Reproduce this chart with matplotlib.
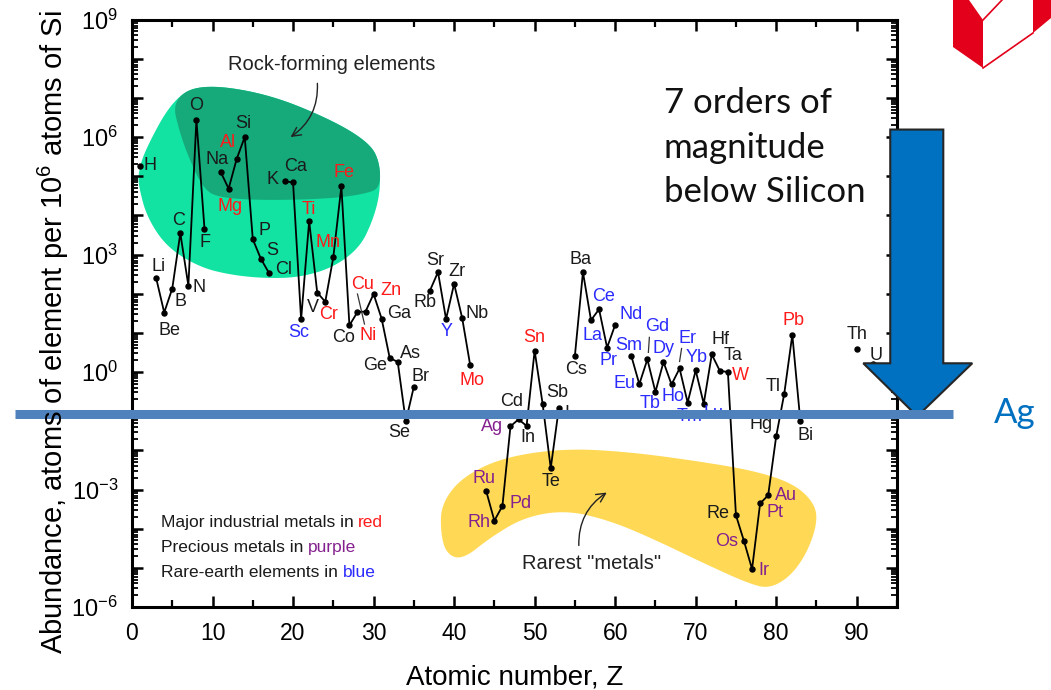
import numpy as np
import matplotlib
matplotlib.use('Agg')
import matplotlib.pyplot as plt
from matplotlib.patches import Polygon
from matplotlib.lines import Line2D
from matplotlib.ticker import FixedLocator, MultipleLocator, FuncFormatter

plt.rcParams['font.family'] = ['Liberation Sans', 'DejaVu Sans']
plt.rcParams['mathtext.default'] = 'regular'

nan = np.nan

# element symbols, Z = 1..92
symbols = ['H', 'He', 'Li', 'Be', 'B', 'C', 'N', 'O', 'F', 'Ne',
           'Na', 'Mg', 'Al', 'Si', 'P', 'S', 'Cl', 'Ar', 'K', 'Ca',
           'Sc', 'Ti', 'V', 'Cr', 'Mn', 'Fe', 'Co', 'Ni', 'Cu', 'Zn',
           'Ga', 'Ge', 'As', 'Se', 'Br', 'Kr', 'Rb', 'Sr', 'Y', 'Zr',
           'Nb', 'Mo', 'Tc', 'Ru', 'Rh', 'Pd', 'Ag', 'Cd', 'In', 'Sn',
           'Sb', 'Te', 'I', 'Xe', 'Cs', 'Ba', 'La', 'Ce', 'Pr', 'Nd',
           'Pm', 'Sm', 'Eu', 'Gd', 'Tb', 'Dy', 'Ho', 'Er', 'Tm', 'Yb',
           'Lu', 'Hf', 'Ta', 'W', 'Re', 'Os', 'Ir', 'Pt', 'Au', 'Hg',
           'Tl', 'Pb', 'Bi', 'Po', 'At', 'Rn', 'Fr', 'Ra', 'Ac', 'Th',
           'Pa', 'U']

# atoms per 10^6 atoms of Si, nan = not plotted
abundance = [1.8e5, nan, 250, 33, 135, 3.5e3, 160, 2.75e6, 4.6e3, nan,
             1.3e5, 4.8e4, 2.75e5, 1.0e6, 2.45e3, 780, 340, nan, 7.4e4, 6.9e4,
             22, 7.1e3, 107, 62, 850, 5.5e4, 15.5, 34, 35, 98,
             23, 2.3, 1.8, 0.055, 0.42, nan, 120, 355, 22.4, 178,
             24, 1.48, nan, 8.9e-4, 1.6e-4, 3.8e-4, 0.041, 0.062, 0.042, 3.5,
             0.15, 3.5e-3, 0.117, nan, 2.6, 355, 21, 40, 4.2, 16,
             nan, 2.6, 0.49, 2.1, 0.31, 1.8, 0.48, 1.23, 0.166, 1.1,
             0.155, 2.8, 1.07, 1.0, 2.2e-4, 4.8e-5, 9.3e-6, 4.4e-4, 7.1e-4, 0.023,
             0.28, 8.9, 0.055, nan, nan, nan, nan, nan, nan, 3.9,
             nan, 1.6]

industrial = ['Mg', 'Al', 'Ti', 'Cr', 'Mn', 'Fe', 'Ni', 'Cu', 'Zn', 'Sn', 'Mo', 'W', 'Pb']
precious = ['Ru', 'Rh', 'Pd', 'Ag', 'Os', 'Ir', 'Pt', 'Au']
rare_earth = ['Sc', 'Y', 'La', 'Ce', 'Pr', 'Nd', 'Sm', 'Eu', 'Gd', 'Tb', 'Dy',
              'Ho', 'Er', 'Tm', 'Yb', 'Lu']

# label offsets from the point, in pixels (right, up)
label_offset = {
    'H': (10, 1), 'Li': (2, 12), 'Be': (5, -18), 'B': (8, -13), 'C': (-2, 13),
    'N': (11, -2), 'O': (0, 14), 'F': (1, -14), 'Na': (-4, 12), 'Mg': (1, -18),
    'Al': (-9, 16), 'Si': (-1, 14), 'P': (12, 9), 'S': (11, 8), 'Cl': (15, 3),
    'K': (-12, 2), 'Ca': (3, 16), 'Sc': (-2, -13), 'Ti': (0, 12), 'V': (-4, -15),
    'Cr': (3, -13), 'Mn': (-5, 15), 'Fe': (3, 14), 'Co': (-6, -12), 'Ni': (11, -23),
    'Cu': (-3, 27), 'Zn': (17, 4), 'Ga': (17, 5), 'Ge': (-15, -8), 'As': (13, 9),
    'Se': (-7, -11), 'Br': (7, 10), 'Rb': (-5, -12), 'Sr': (-3, 12), 'Y': (1, -12),
    'Zr': (3, 12), 'Nb': (15, 4), 'Mo': (2, -15), 'Ru': (-2, 13), 'Rh': (-15, -2),
    'Pd': (18, 2), 'Ag': (-18, 0), 'Cd': (-7, 18), 'In': (1, -12), 'Sn': (0, 13),
    'Sb': (15, 12), 'Te': (0, -13), 'I': (8, -5), 'Cs': (1, -14), 'Ba': (-2, 13),
    'La': (2, -15), 'Ce': (5, 13), 'Pr': (1, -13), 'Nd': (16, 10), 'Sm': (-3, 10),
    'Eu': (-15, 1), 'Gd': (10, 33), 'Tb': (-5, -12), 'Dy': (0, 14), 'Ho': (1, -12),
    'Er': (8, 30), 'Tm': (2, -14), 'Yb': (1, 13), 'Lu': (10, -10), 'Hf': (9, 15),
    'Ta': (13, 15), 'W': (13, -3), 'Re': (-18, 2), 'Os': (-17, 0), 'Ir': (12, -1),
    'Pt': (15, -9), 'Au': (18, 0), 'Hg': (-15, 12), 'Tl': (-11, 7), 'Pb': (1, 14),
    'Bi': (5, -14), 'Th': (0, 14), 'U': (3, 9),
}
# short leader strokes (start offset, end offset), pixels
leaders = {'Ni': ((0, 18), (7, -12)), 'Gd': ((2, 22), (1, 7)), 'Er': ((2, 20), (0, 7))}

# outlines of the highlighted regions, (Z, log10 abundance)
rock_outline = [(8.45, 7.36), (16.8, 7.11), (25.0, 6.42), (29.6, 5.83), (30.8, 5.32),
                (30.8, 4.56), (29.9, 3.87), (28.3, 3.18), (25.0, 2.67), (20.9, 2.42),
                (16.8, 2.39), (12.5, 2.47), (8.45, 2.67), (4.35, 3.18), (1.86, 3.95),
                (0.87, 4.71), (0.75, 5.06), (1.6, 5.66), (4.97, 6.93)]
rock_core = [(4.97, 6.93), (8.45, 7.36), (16.8, 7.11), (25.0, 6.42), (29.6, 5.83),
             (30.8, 5.32), (30.8, 4.71), (29.2, 4.56), (25.0, 4.43), (16.8, 4.38),
             (10.6, 4.45), (8.8, 4.71), (7.2, 5.40), (5.96, 6.09)]
rare_outline = [(38.45, -3.36), (41.0, -2.68), (46.2, -2.17), (53.9, -1.95), (61.6, -2.04),
                (69.4, -2.25), (77.1, -2.51), (82.2, -2.85), (84.8, -3.36), (85.1, -3.87),
                (83.8, -4.63), (81.7, -5.23), (79.1, -5.53), (76.6, -5.40), (71.9, -4.97),
                (64.2, -4.21), (59.1, -3.78), (53.9, -3.53), (48.8, -3.70), (44.6, -4.21),
                (41.0, -4.80), (38.96, -4.63), (38.3, -4.04)]

ag_level = 0.087


def smooth_closed(pts, n=4):
    p = np.asarray(pts, float)
    for _ in range(n):
        q = np.roll(p, -1, axis=0)
        new = np.empty((2 * len(p), 2))
        new[0::2] = 0.75 * p + 0.25 * q
        new[1::2] = 0.25 * p + 0.75 * q
        p = new
    p[:, 1] = 10 ** p[:, 1]
    return p


def label_color(sym):
    if sym in industrial:
        return '#ff1a1a'
    if sym in precious:
        return '#85208f'
    if sym in rare_earth:
        return '#2b2bff'
    return '#1a1a1a'


fig = plt.figure(figsize=(10.51, 6.9), dpi=100)
W, H = 1051, 690
ax = fig.add_axes([132 / W, 1 - 607 / H, 765 / W, 587.5 / H])
ax.set_yscale('log')
ax.set_xlim(0, 95)
ax.set_ylim(1e-6, 1e9)

ax.add_patch(Polygon(smooth_closed(rock_outline), closed=True, fc='#12e2a2', ec='none', zorder=1))
ax.add_patch(Polygon(smooth_closed(rock_core), closed=True, fc='#16a97a', ec='none', zorder=1))
ax.add_patch(Polygon(smooth_closed(rare_outline), closed=True, fc='#ffd955', ec='none', zorder=1))

z = np.arange(1, len(symbols) + 1)
vals = np.array(abundance, dtype=float)
ax.plot(z, vals, '-', color='black', lw=1.3, zorder=3)
ax.plot(z, vals, 'o', color='black', ms=3.6, zorder=3)

for zi, sym, v in zip(z, symbols, vals):
    if np.isnan(v) or sym not in label_offset:
        continue
    dx, dy = label_offset[sym]
    ax.annotate(sym, xy=(zi, v), xytext=(dx, dy), textcoords='offset pixels',
                ha='center', va='center', fontsize=13, color=label_color(sym), zorder=4)

for sym, (a, b) in leaders.items():
    i = symbols.index(sym)
    px, py = ax.transData.transform((z[i], vals[i]))
    fig.add_artist(Line2D([px + a[0], px + b[0]], [py + a[1], py + b[1]],
                          transform=None, color='#333333', lw=0.9))

# annotations
ax.text(24.8, 10 ** 7.84, 'Rock-forming elements', ha='center', va='center', fontsize=14.5, color='#222222')
ax.annotate('', xy=(19.4, 10 ** 5.96), xytext=(23.0, 10 ** 7.44),
            arrowprops=dict(arrowstyle='->', color='#222222', lw=1.0,
                            connectionstyle='arc3,rad=-0.3', mutation_scale=16))
ax.text(57.1, 10 ** -4.89, 'Rarest "metals"', ha='center', va='center', fontsize=14.5, color='#222222')
ax.annotate('', xy=(59.25, 10 ** -3.04), xytext=(55.5, 10 ** -4.50),
            arrowprops=dict(arrowstyle='->', color='#222222', lw=1.0,
                            connectionstyle='arc3,rad=-0.3', mutation_scale=16))

legend_lines = [('Major industrial metals in ', 'red', '#ff1a1a'),
                ('Precious metals in ', 'purple', '#85208f'),
                ('Rare-earth elements in ', 'blue', '#2b2bff')]
for k, (txt, word, col) in enumerate(legend_lines):
    t = ax.text(0.0375, [0.1367, 0.0931, 0.0506][k], txt, transform=ax.transAxes,
                ha='left', va='baseline', fontsize=12.5, color='#1a1a1a')
    ax.annotate(word, xy=(1, 0), xycoords=t, ha='left', va='bottom', fontsize=12.5, color=col)

# axes styling
ax.xaxis.set_major_locator(MultipleLocator(10))
ax.xaxis.set_minor_locator(MultipleLocator(5))
ax.yaxis.set_major_locator(FixedLocator(10.0 ** np.arange(-6, 10)))
ax.yaxis.set_minor_locator(FixedLocator([s * 10.0 ** e for e in range(-6, 9) for s in range(2, 10)]))
ax.yaxis.set_major_formatter(FuncFormatter(
    lambda v, pos: '$10^{%d}$' % round(np.log10(v)) if round(np.log10(v)) % 3 == 0 else ''))
ax.yaxis.set_minor_formatter(FuncFormatter(lambda v, pos: ''))
ax.tick_params(which='both', direction='in', top=True, right=True, colors='black')
ax.tick_params(which='major', length=8, width=1.8)
ax.tick_params(axis='x', which='minor', length=5, width=1.6)
ax.tick_params(axis='y', which='minor', length=4, width=1.3)
ax.tick_params(axis='y', which='major', labelsize=17, pad=10)
ax.tick_params(axis='x', which='major', labelsize=16.5, pad=11)
for sp in ax.spines.values():
    sp.set_linewidth(2.2)

fig.text(63 / W, 1 - 332 / H, 'Abundance, atoms of element per 10$^{6}$ atoms of Si',
         rotation=90, rotation_mode='anchor', ha='center', va='baseline', fontsize=21)
fig.text(515 / W, 1 - 685 / H, 'Atomic number, Z', ha='center', va='baseline', fontsize=20)

# big arrow and Ag level line
arrow = [(94.16, 1.55e6), (100.75, 1.55e6), (100.75, 1.67), (104.35, 1.67),
         (97.52, 0.074), (90.81, 1.67), (94.16, 1.67)]
ax.add_patch(Polygon(arrow, closed=True, fc='#0070c0', ec='#262626', lw=1.5,
                     zorder=6, clip_on=False))
ax.plot([-14.5, 101.9], [ag_level, ag_level], color='#4f81bd', lw=6.5,
        solid_capstyle='butt', zorder=7, clip_on=False)

fig.text(994 / W, 1 - 423 / H, 'Ag', ha='left', va='baseline', fontsize=25,
         color='#0070c0', family='Lato')
for k, line in enumerate(['7 orders of', 'magnitude', 'below Silicon']):
    fig.text(664 / W, 1 - (113 + 44.5 * k) / H, line, ha='left', va='baseline',
             fontsize=25, color='#111111', family='Lato')

# logo corner
def px(pts):
    return [(x / W, 1 - y / H) for x, y in pts]

fig.add_artist(Polygon(px([(953, 0), (969, 0), (983, 20), (983, 68), (953, 47)]),
                       closed=True, fc='#e2001a', ec='none', transform=fig.transFigure))
fig.add_artist(Polygon(px([(1033, 0), (1051, 0), (1051, 18), (1033, 33)]),
                       closed=True, fc='#e2001a', ec='none', transform=fig.transFigure))
fig.add_artist(Line2D([983 / W, 1033 / W], [1 - 68 / H, 1 - 33 / H], color='#e2001a',
                      lw=1.2, transform=fig.transFigure))
fig.add_artist(Line2D([983 / W, 1002 / W], [1 - 20 / H, 1], color='#e2001a',
                      lw=1.2, transform=fig.transFigure))

fig.savefig('out.png', dpi=100)
